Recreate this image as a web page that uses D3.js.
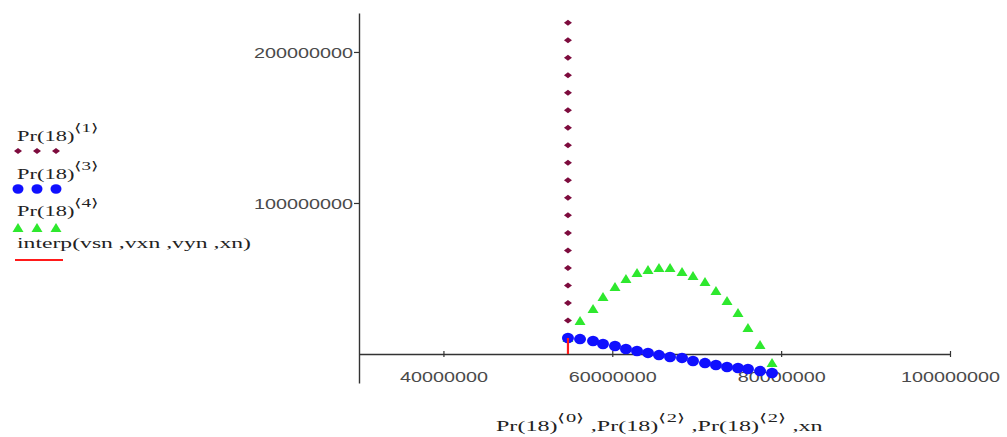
<!DOCTYPE html>
<html>
<head>
<meta charset="utf-8">
<script src="https://cdn.jsdelivr.net/npm/d3@7"></script>
<style>
  body { margin: 0; background: #fff; }
</style>
</head>
<body>
<div id="stage"></div>
<script>
// values (x shared by series 3 and 4)
const xCol0 = [54.75e6, 54.75e6, 54.75e6, 54.75e6, 54.75e6, 54.75e6, 54.75e6, 54.75e6, 54.75e6, 54.75e6,
               54.75e6, 54.75e6, 54.75e6, 54.75e6, 54.75e6, 54.75e6, 54.75e6, 54.75e6, 54.75e6];
const yCol1 = [10.6e6, 22.2e6, 33.8e6, 45.4e6, 57.0e6, 68.6e6, 80.2e6, 91.8e6, 103.4e6, 115.0e6,
               126.6e6, 138.2e6, 149.8e6, 161.4e6, 173.0e6, 184.6e6, 196.2e6, 207.8e6, 219.4e6];
const xCol2 = [54.75e6, 56.18e6, 57.72e6, 58.90e6, 60.32e6, 61.62e6, 62.93e6, 64.23e6, 65.53e6, 66.84e6,
               68.26e6, 69.56e6, 70.98e6, 72.28e6, 73.59e6, 74.89e6, 76.07e6, 77.50e6, 78.92e6];
const yCol3 = [10.6e6, 9.9e6, 8.6e6, 6.6e6, 5.3e6, 3.3e6, 2.0e6, 0.7e6, -0.7e6, -2.0e6,
               -2.6e6, -4.6e6, -6.0e6, -7.3e6, -8.6e6, -9.3e6, -9.9e6, -11.3e6, -12.6e6];
const yCol4 = [10.6e6, 21.9e6, 29.8e6, 37.7e6, 44.4e6, 49.7e6, 53.6e6, 55.6e6, 57.0e6, 57.0e6,
               54.3e6, 51.7e6, 47.7e6, 41.7e6, 35.1e6, 27.2e6, 17.2e6, 6.0e6, -6.0e6];
const interpX = [54.75e6, 54.75e6];
const interpY = [0, 10.6e6];

const xTicks = [40e6, 60e6, 80e6, 100e6];
const yTicks = [100e6, 200e6];

const width = 1007;
const height = 437;

const svg = d3.select('#stage')
                .append('svg')
                .attr('width', width)
                .attr('height', height);

const x = d3.scaleLinear().domain([30e6, 100e6]).range([359, 950]);
const y = d3.scaleLinear().domain([-19.2e6, 225.8e6]).range([383, 13]);

const fmt = d3.format('d');

// axes crossing at (30e6, 0)
const xAxis = svg.append('g')
    .attr('transform', `translate(0,${y(0)})`)
    .call(d3.axisBottom(x).tickValues(xTicks).tickSizeOuter(0).tickPadding(9).tickFormat(fmt));

const yAxis = svg.append('g')
    .attr('transform', `translate(${x(30e6)},0)`)
    .call(d3.axisLeft(y).tickValues(yTicks).tickSize(5).tickSizeOuter(0).tickPadding(1).tickFormat(fmt));

[xAxis, yAxis].forEach(a => {
    a.select('.domain').attr('stroke', '#333').attr('stroke-width', 1.4);
    a.selectAll('.tick line').attr('stroke', '#333').attr('stroke-width', 1.2);
    a.selectAll('.tick text')
        .attr('font-family', 'Liberation Sans, Arial, sans-serif')
        .attr('font-size', 14)
        .attr('fill', '#4a4a4a')
        .attr('textLength', d => fmt(d).length * 11)
        .attr('lengthAdjust', 'spacingAndGlyphs');
});
xAxis.selectAll('.tick line').attr('y1', -3).attr('y2', 3);
xAxis.selectAll('.tick text').attr('dy', '0.9em');
yAxis.selectAll('.tick text').attr('dy', '0.36em');

// marker shapes
const diamond = 'M0,-3L4,0L0,3L-4,0Z';
const triangle = 'M0,-5L5.5,4L-5.5,4Z';

// series 1: maroon diamonds
svg.append('g')
    .selectAll('path')
    .data(d3.range(yCol1.length))
    .join('path')
    .attr('d', diamond)
    .attr('fill', '#7d0b3d')
    .attr('transform', i => `translate(${x(xCol0[i])},${y(yCol1[i])})`);

// series 4: green triangles
svg.append('g')
    .selectAll('path')
    .data(d3.range(yCol4.length))
    .join('path')
    .attr('d', triangle)
    .attr('fill', '#2ee82e')
    .attr('transform', i => `translate(${x(xCol2[i])},${y(yCol4[i])})`);

// series 3: blue circles
svg.append('g')
    .selectAll('ellipse')
    .data(d3.range(yCol3.length))
    .join('ellipse')
    .attr('cx', i => x(xCol2[i]))
    .attr('cy', i => y(yCol3[i]))
    .attr('rx', 6)
    .attr('ry', 5.2)
    .attr('fill', '#1010ff');

// interp line
svg.append('path')
    .datum(d3.range(interpX.length))
    .attr('fill', 'none')
    .attr('stroke', '#ff1a1a')
    .attr('stroke-width', 2.2)
    .attr('d', d3.line().x(i => x(interpX[i])).y(i => y(interpY[i])));

// text with superscripts, stretched to a target width
function mathText(parts, tx, ty, targetW, size) {
    const g = svg.append('g');
    const t = g.append('text')
        .attr('font-family', 'Liberation Serif, Times New Roman, serif')
        .attr('font-size', size)
        .attr('fill', '#222');
    let raised = false;
    parts.forEach(p => {
        const sup = p[1];
        const s = t.append('tspan')
            .attr('font-size', sup ? size * 0.85 : size)
            .text(p[0]);
        if (sup && !raised) { s.attr('dy', -9); raised = true; }
        else if (!sup && raised) { s.attr('dy', 9); raised = false; }
    });
    const w = t.node().getComputedTextLength();
    g.attr('transform', `translate(${tx},${ty}) scale(${targetW / w},1)`);
}

// legend
const legendRows = [
    {label: [['Pr(18)'], ['\u27E81\u27E9', 1]], ty: 141},
    {label: [['Pr(18)'], ['\u27E83\u27E9', 1]], ty: 179},
    {label: [['Pr(18)'], ['\u27E84\u27E9', 1]], ty: 216},
];
legendRows.forEach(r => mathText(r.label, 17, r.ty, 83, 14));
mathText([['interp(vsn ,vxn ,vyn ,xn)']], 17, 248, 234, 14);

const legendX = [18, 37, 56];
svg.append('g').selectAll('path').data(legendX).join('path')
    .attr('d', diamond).attr('fill', '#7d0b3d')
    .attr('transform', d => `translate(${d},151)`);
svg.append('g').selectAll('ellipse').data(legendX).join('ellipse')
    .attr('cx', d => d).attr('cy', 189).attr('rx', 5.5).attr('ry', 4.8)
    .attr('fill', '#1010ff');
svg.append('g').selectAll('path').data(legendX).join('path')
    .attr('d', triangle).attr('fill', '#2ee82e')
    .attr('transform', d => `translate(${d},228)`);
svg.append('line')
    .attr('x1', 15).attr('x2', 63).attr('y1', 260).attr('y2', 260)
    .attr('stroke', '#ff1a1a').attr('stroke-width', 2);

// x axis title
mathText([
    ['Pr(18)'], ['\u27E80\u27E9', 1], [' ,Pr(18)'], ['\u27E82\u27E9', 1],
    [' ,Pr(18)'], ['\u27E82\u27E9', 1], [' ,xn']
], 496, 431, 327, 14);
</script>
</body>
</html>
